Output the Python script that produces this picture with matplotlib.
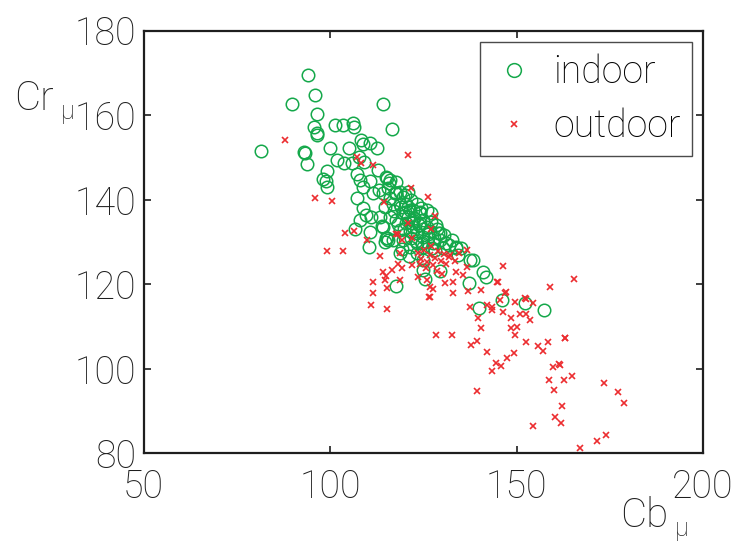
import matplotlib
matplotlib.use("Agg")
import matplotlib.pyplot as plt

plt.rcParams['font.family'] = ['Roboto', 'DejaVu Sans']
plt.rcParams['font.weight'] = 'light'

# mean chroma values per image
indoor_cb = [81.5, 89.7, 94.1, 96.0, 96.5, 95.7, 96.4, 96.5, 93.0, 93.2, 93.9,
             101.2, 103.6, 106.1, 106.5, 114.2, 116.5, 100.1, 105.0, 108.4, 108.9,
             110.7, 112.5, 101.9, 103.8, 105.8, 107.8, 109.2, 99.3, 98.0, 98.9,
             99.2, 112.9, 107.1, 108.0, 110.7, 108.9, 115.4, 115.8, 111.4, 113.1,
             107.3, 108.9, 108.0, 109.6, 111.1, 113.8, 110.7, 115.4, 115.6, 117.8,
             115.1, 116.0, 117.4, 118.7, 120.0, 121.8, 123.2, 124.5, 125.9, 127.2,
             127.2, 128.5, 129.0, 129.4, 127.6, 125.0, 123.2, 121.4, 119.6, 116.9,
             115.1, 114.2, 113.4, 116.0, 117.8, 119.6, 121.4, 122.3, 124.1, 125.9,
             118.7, 121.4, 123.2, 125.0, 126.7, 116.9, 118.7, 114.7, 120.5, 117.8,
             122.3, 124.1, 125.0, 122.3, 120.5, 131.2, 132.6, 133.9, 130.3, 128.1,
             118.7, 125.0, 125.0, 114.2, 117.8, 116.0, 119.6, 120.9,
             110.4, 106.8, 114.7, 117.8, 125.4, 115.6,
             129.4, 133.9, 135.2, 137.5, 141.0, 141.9, 137.3, 129.6, 140.0, 146.2,
             152.2, 157.4, 134.3, 138.3,
             119.0, 120.2, 121.0, 122.6, 123.8, 124.8, 126.2, 127.8, 118.2, 119.8,
             121.6, 123.0, 124.6, 126.0, 127.4, 120.8, 122.0, 124.0, 117.2, 128.8,
             130.6, 131.8, 119.2, 121.2, 123.4]
indoor_cr = [151.6, 162.6, 169.6, 164.8, 160.3, 157.1, 155.8, 155.2, 151.3, 151.0, 148.4,
             157.7, 157.7, 158.2, 157.1, 162.6, 156.7, 152.2, 152.2, 154.1, 153.1,
             153.5, 152.3, 149.4, 148.7, 148.6, 150.2, 149.0, 146.8, 144.8, 144.5,
             143.1, 147.0, 146.0, 144.7, 144.4, 143.1, 145.2, 144.0, 141.7, 142.3,
             140.3, 138.0, 135.2, 136.4, 136.0, 133.8, 132.4, 130.9, 142.7, 141.5,
             145.4, 144.7, 141.5, 141.9, 141.1, 139.9, 139.1, 138.0, 137.6, 136.8,
             134.8, 134.0, 132.1, 130.5, 129.7, 128.9, 129.7, 128.9, 130.5, 130.5,
             130.9, 133.6, 136.0, 136.0, 135.2, 136.8, 137.6, 135.2, 134.4, 133.6,
             132.9, 132.5, 132.1, 131.3, 132.5, 139.1, 139.1, 138.3, 139.1, 144.1,
             137.6, 136.8, 135.2, 133.6, 134.4, 129.7, 130.5, 128.5, 128.5, 128.1,
             127.3, 125.7, 123.4, 141.5, 141.5, 140.3, 140.7, 141.9,
             128.9, 133.1, 130.1, 119.6, 121.3, 130.5,
             132.1, 128.9, 128.5, 125.7, 123.0, 121.8, 120.2, 123.2, 114.3, 116.3,
             115.5, 113.9, 126.9, 125.7,
             138.2, 137.0, 136.0, 135.8, 134.0, 133.0, 131.8, 131.0, 134.2, 133.0,
             131.0, 130.2, 129.8, 130.0, 128.6, 138.4, 134.6, 137.2, 137.4, 133.2,
             131.6, 129.2, 128.4, 126.8, 127.4]

outdoor_cb = [87.9, 121.0, 107.3, 108.4, 111.4, 121.7, 126.3, 96.1, 100.5, 104.0,
              106.5, 109.8, 99.1, 103.5, 113.5, 118.3, 118.7, 122.1, 120.9, 114.4,
              128.1, 127.0, 119.4, 117.8, 118.3, 119.2, 114.1, 115.1, 116.5, 114.7,
              111.6, 118.7, 115.4, 111.4, 110.9, 115.4, 122.1, 123.6, 125.9, 127.5,
              126.6, 128.5,
              123.5, 124.5, 125.2, 126.0, 126.8, 127.5, 128.2, 129.0, 129.8, 130.5,
              131.2, 132.0, 124.0, 125.8, 127.0, 128.7, 130.0, 133.5, 134.5, 132.1,
              146.4, 158.9, 126.7, 133.0, 137.0, 144.8, 146.9, 137.5, 139.7, 140.6,
              132.6, 137.9, 139.3, 163.0, 152.6, 155.8, 158.4, 157.1, 142.0, 143.3,
              145.5, 146.4, 148.6, 149.5, 150.9, 152.6, 150.0, 148.6, 149.5, 153.5,
              152.6, 145.0, 147.3, 133.0, 130.8, 126.7, 133.9, 135.7, 136.6, 136.6,
              142.2, 144.4, 143.3, 145.8, 147.5, 149.3, 139.3, 159.8, 161.4, 158.6,
              162.6, 160.0, 162.3, 160.4, 162.0, 154.4, 165.3, 163.1, 161.6, 165.0,
              173.4, 177.2, 178.7, 171.6, 173.9, 167.1, 140.6, 143.3, 154.4, 152.2]
outdoor_cr = [154.1, 150.5, 150.0, 148.6, 148.2, 142.8, 140.6, 140.3, 139.8, 132.2,
              132.5, 130.5, 127.9, 127.9, 126.7, 131.8, 127.3, 130.9, 134.6, 139.5,
              136.1, 133.2, 130.5, 131.9, 124.7, 123.8, 123.0, 122.0, 123.5, 121.0,
              120.6, 121.0, 119.2, 118.0, 115.1, 114.1, 124.6, 121.7, 121.0, 119.0,
              116.9, 108.0,
              127.5, 126.0, 128.2, 125.2, 127.0, 124.5, 126.3, 128.0, 125.5, 127.2,
              124.8, 126.5, 124.8, 123.8, 129.0, 123.2, 122.5, 125.5, 127.5, 126.9,
              124.3, 119.3, 117.1, 118.0, 118.4, 120.6, 118.0, 114.6, 112.0, 109.6,
              108.0, 105.6, 106.6, 107.4, 106.3, 105.4, 106.3, 104.3, 115.1, 113.9,
              116.3, 113.5, 112.0, 115.9, 113.1, 116.5, 110.0, 109.6, 108.1, 111.6,
              113.1, 120.6, 118.3, 120.6, 120.2, 119.4, 123.0, 122.2, 124.2, 128.1,
              104.1, 101.3, 99.6, 100.7, 102.5, 103.8, 94.8, 100.5, 101.2, 97.4,
              97.4, 95.0, 91.2, 88.6, 87.3, 86.6, 121.2, 107.2, 100.9, 98.3,
              96.6, 94.6, 91.9, 83.0, 84.4, 81.2, 118.7, 114.7, 115.5, 116.7]

green = '#14a84a'
red = '#ec2d30'
ink = '#1e1e1e'

fig = plt.figure(figsize=(7.4, 5.47), dpi=100)
ax = fig.add_axes([0.194, 0.171, 0.756, 0.773])

ax.plot(indoor_cb, indoor_cr, 'o', mfc='none', mec=green, ms=9, mew=1.1,
        label='indoor')
ax.plot(outdoor_cb, outdoor_cr, 'x', color=red, ms=5, mew=1.2, label='outdoor')

ax.set_xlim(50, 200)
ax.set_ylim(80, 180)
ax.set_xticks([50, 100, 150, 200])
ax.set_yticks([80, 100, 120, 140, 160, 180])
ax.tick_params(direction='in', top=True, right=True, length=5, width=1.2,
               labelsize=27, colors=ink, pad=5)
ax.tick_params(axis='x', pad=11)
for s in ax.spines.values():
    s.set_linewidth(1.6)
    s.set_color(ink)

leg = ax.legend(loc='upper right', fontsize=27, frameon=True, fancybox=False,
                borderpad=0.3, handletextpad=0.45, labelspacing=0.45,
                handlelength=1.2, borderaxespad=0.3, markerscale=1.1)
leg.get_frame().set_edgecolor(ink)
leg.get_frame().set_linewidth(1.0)
leg.legend_handles[1].set_markersize(5)

# axis labels with subscript mu, placed in figure pixels
fig.text(14 / 740, 1 - 110 / 547, 'Cr', fontsize=29, color=ink)
fig.text(61 / 740, 1 - 119 / 547, 'μ', fontsize=18, color=ink)
fig.text(620 / 740, 1 - 527 / 547, 'Cb', fontsize=29, color=ink)
fig.text(675 / 740, 1 - 536 / 547, 'μ', fontsize=18, color=ink)

fig.savefig('out.png', dpi=100)
